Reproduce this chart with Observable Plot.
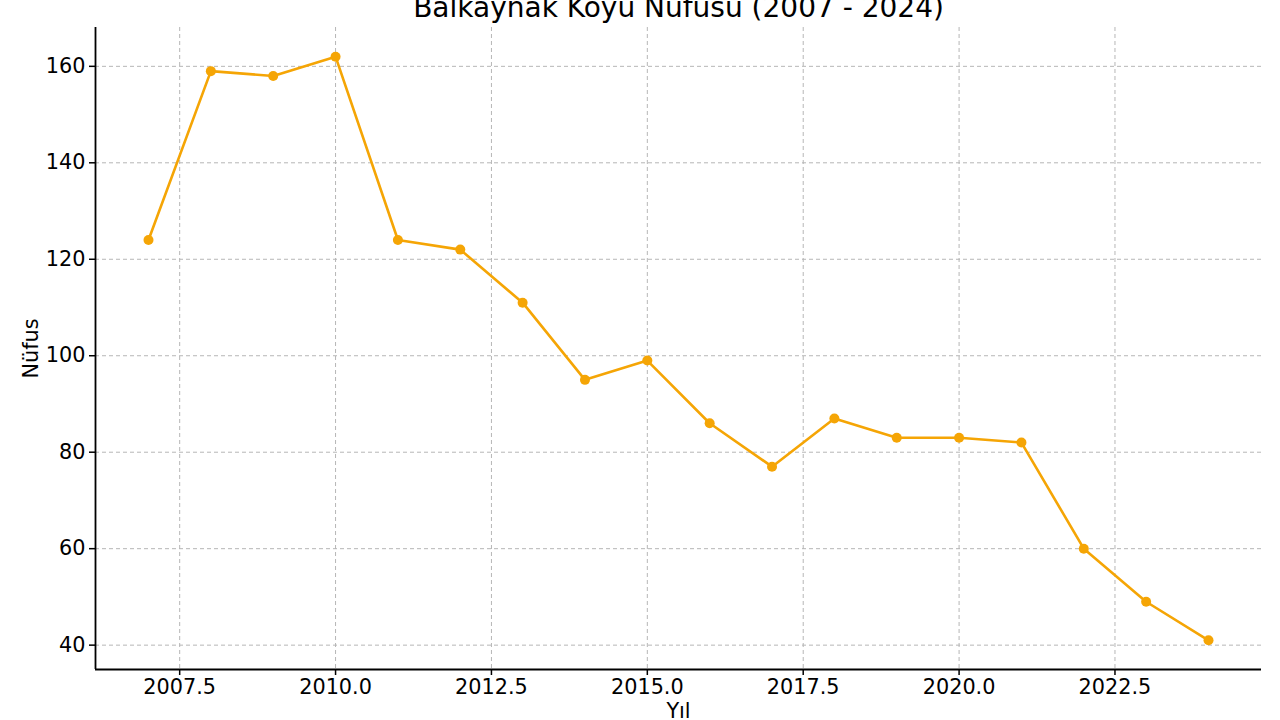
<!DOCTYPE html>
<html>
<head>
<meta charset="utf-8">
<script src="https://cdn.jsdelivr.net/npm/d3@7"></script>
<script src="https://cdn.jsdelivr.net/npm/@observablehq/plot@0.6"></script>
<style>
  html, body { margin: 0; padding: 0; background: #fff; }
  #chart { width: 1280px; height: 720px; overflow: hidden; }
</style>
</head>
<body>
<div id="chart"></div>
<script>
const years = [2007, 2008, 2009, 2010, 2011, 2012, 2013, 2014, 2015, 2016, 2017, 2018, 2019, 2020, 2021, 2022, 2023, 2024];
const population = [124, 159, 158, 162, 124, 122, 111, 95, 99, 86, 77, 87, 83, 83, 82, 60, 49, 41];
const xTicks = [2007.5, 2010.0, 2012.5, 2015.0, 2017.5, 2020.0, 2022.5];
const yTicks = [40, 60, 80, 100, 120, 140, 160];
const titleText = "Balkaynak Köyü Nüfusu (2007 - 2024)";
const xLabel = "Yıl";
const yLabel = "Nüfus";

const data = years.map((y, i) => ({year: y, pop: population[i]}));
const xDomain = [2006.15, 2024.85];
const yDomain = [34.95, 168.05];
const lineColor = "#f5a505";
const gridColor = "#b6b6b6";

const chart = Plot.plot({
  width: 1280,
  height: 720,
  marginLeft: 95,
  marginRight: 19,
  marginTop: 27,
  marginBottom: 51,
  style: {fontFamily: "DejaVu Sans", fontSize: "20.8px", color: "#000", background: "#fff"},
  x: {domain: xDomain, nice: false},
  y: {domain: yDomain, nice: false},
  marks: [
    Plot.ruleX(xTicks, {stroke: gridColor, strokeWidth: 1, strokeDasharray: "4,3"}),
    Plot.ruleY(yTicks, {stroke: gridColor, strokeWidth: 1, strokeDasharray: "4,3"}),
    Plot.axisX({ticks: xTicks, tickFormat: d => d.toFixed(1), tickSize: 6, tickPadding: 4, strokeWidth: 1.5, label: null, fontSize: 20.8}),
    Plot.axisY({ticks: yTicks, tickFormat: d => String(d), tickSize: 6, tickPadding: 4, strokeWidth: 1.5, label: null, fontSize: 20.8}),
    Plot.ruleX([xDomain[0]], {stroke: "#000", strokeWidth: 1.8}),
    Plot.ruleY([yDomain[0]], {stroke: "#000", strokeWidth: 1.8}),
    Plot.line(data, {x: "year", y: "pop", stroke: lineColor, strokeWidth: 2.6}),
    Plot.dot(data, {x: "year", y: "pop", fill: lineColor, r: 5, stroke: "none"}),
    Plot.text([titleText], {frameAnchor: "top", dy: -19, fontSize: 28, lineAnchor: "middle", textAnchor: "middle", fill: "#000"}),
    Plot.text([xLabel], {frameAnchor: "bottom", dy: 42, fontSize: 20.8, lineAnchor: "middle", textAnchor: "middle", fill: "#000"}),
    Plot.text([yLabel], {frameAnchor: "left", dx: -64, rotate: -90, fontSize: 20.8, lineAnchor: "middle", textAnchor: "middle", fill: "#000"})
  ]
});
document.getElementById("chart").appendChild(chart);
</script>
</body>
</html>
